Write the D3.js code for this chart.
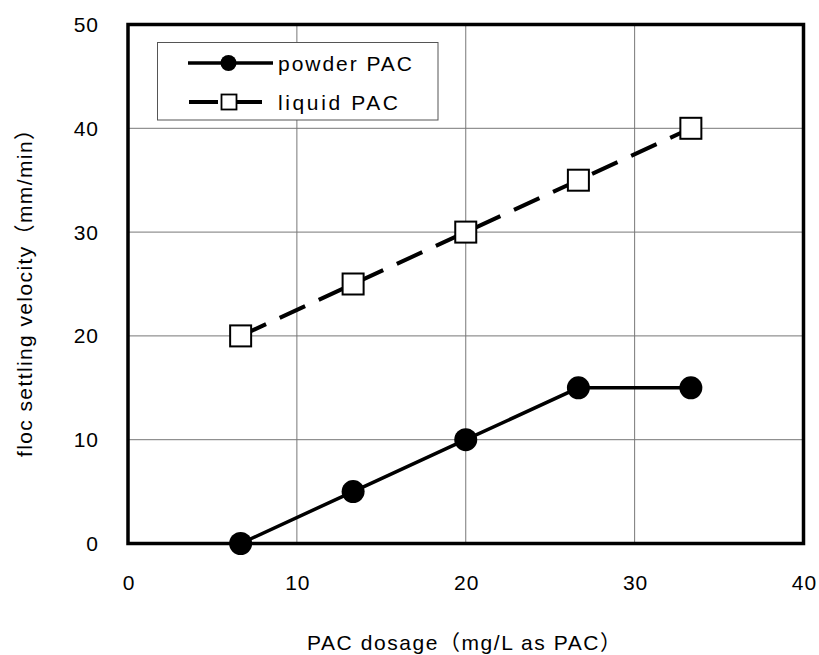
<!DOCTYPE html>
<html>
<head>
<meta charset="utf-8">
<script src="https://cdn.jsdelivr.net/npm/d3@7"></script>
<style>
  html, body { margin: 0; padding: 0; background: #fff; }
  svg text { font-family: "Liberation Sans", Arial, "Noto Sans CJK JP", sans-serif; fill: #000; }
</style>
</head>
<body>
<svg id="chart" width="819" height="655"></svg>
<script>
// PAC dosage vs floc settling velocity
const dosage = [6.67, 13.33, 20, 26.67, 33.33];
const powderPAC = [0, 5, 10, 15, 15];
const liquidPAC = [20, 25, 30, 35, 40];
const xTicks = [0, 10, 20, 30, 40];
const yTicks = [0, 10, 20, 30, 40, 50];
const seriesNames = ["powder PAC", "liquid PAC"];

(function () {
  const svg = d3.select("#chart");
  const L = 128, R = 803.5, T = 24.5, B = 543.5;

  const x = d3.scaleLinear().domain([0, 40]).range([L, R]);
  const y = d3.scaleLinear().domain([0, 50]).range([B, T]);

  // grid
  svg.append("g")
    .selectAll("line")
    .data(xTicks.slice(1, -1))
    .join("line")
    .attr("x1", d => x(d)).attr("x2", d => x(d))
    .attr("y1", T).attr("y2", B)
    .attr("stroke", "#777").attr("stroke-width", 1);
  svg.append("g")
    .selectAll("line")
    .data(yTicks.slice(1, -1))
    .join("line")
    .attr("x1", L).attr("x2", R)
    .attr("y1", d => y(d)).attr("y2", d => y(d))
    .attr("stroke", "#777").attr("stroke-width", 1);

  // tick labels
  svg.append("g")
    .selectAll("text")
    .data(xTicks)
    .join("text")
    .attr("x", d => x(d) + 1).attr("y", 590)
    .attr("text-anchor", "middle")
    .attr("font-size", 21)
    .attr("letter-spacing", 1)
    .text(d => d);
  svg.append("g")
    .selectAll("text")
    .data(yTicks)
    .join("text")
    .attr("x", 99).attr("y", d => y(d) + 7.5)
    .attr("text-anchor", "end")
    .attr("font-size", 21)
    .attr("letter-spacing", 1)
    .text(d => d);

  // axis titles (fullwidth parentheses as in the original)
  svg.append("text")
    .attr("x", 307).attr("y", 650)
    .attr("font-size", 21)
    .attr("textLength", 314).attr("lengthAdjust", "spacing")
    .text("PAC dosage（mg/L as PAC）");
  svg.append("text")
    .attr("transform", "translate(32,457) rotate(-90)")
    .attr("font-size", 21)
    .attr("textLength", 338).attr("lengthAdjust", "spacing")
    .text("floc settling velocity（mm/min）");

  // lines
  const line = d3.line().x(d => x(d[0])).y(d => y(d[1]));
  svg.append("path")
    .datum(d3.zip(dosage, powderPAC))
    .attr("d", line)
    .attr("fill", "none").attr("stroke", "#000").attr("stroke-width", 3.5);
  svg.append("path")
    .datum(d3.zip(dosage, liquidPAC))
    .attr("d", line)
    .attr("fill", "none").attr("stroke", "#000").attr("stroke-width", 4)
    .attr("stroke-dasharray", "28,15");

  // frame
  svg.append("rect")
    .attr("x", L).attr("y", T)
    .attr("width", R - L).attr("height", B - T)
    .attr("fill", "none").attr("stroke", "#000").attr("stroke-width", 3.5);

  // markers
  svg.append("g")
    .selectAll("circle")
    .data(d3.zip(dosage, powderPAC))
    .join("circle")
    .attr("cx", d => x(d[0])).attr("cy", d => y(d[1]))
    .attr("r", 11.5).attr("fill", "#000");
  const sq = 21;
  svg.append("g")
    .selectAll("rect")
    .data(d3.zip(dosage, liquidPAC))
    .join("rect")
    .attr("x", d => x(d[0]) - sq / 2).attr("y", d => y(d[1]) - sq / 2)
    .attr("width", sq).attr("height", sq)
    .attr("fill", "#fff").attr("stroke", "#000").attr("stroke-width", 2);

  // legend
  const lg = svg.append("g");
  lg.append("rect")
    .attr("x", 157.5).attr("y", 42.5).attr("width", 280.5).attr("height", 77.5)
    .attr("fill", "#fff").attr("stroke", "#555").attr("stroke-width", 1);
  lg.append("line")
    .attr("x1", 188).attr("x2", 273).attr("y1", 63).attr("y2", 63)
    .attr("stroke", "#000").attr("stroke-width", 3.5);
  lg.append("circle").attr("cx", 228.5).attr("cy", 63).attr("r", 8).attr("fill", "#000");
  lg.append("line")
    .attr("x1", 189).attr("x2", 262).attr("y1", 102).attr("y2", 102)
    .attr("stroke", "#000").attr("stroke-width", 4)
    .attr("stroke-dasharray", "29,17");
  lg.append("rect")
    .attr("x", 221.5).attr("y", 94.5).attr("width", 15).attr("height", 15)
    .attr("fill", "#fff").attr("stroke", "#000").attr("stroke-width", 1.8);
  const legendLen = [134, 120];
  lg.selectAll("text.lab")
    .data(seriesNames)
    .join("text")
    .attr("x", 278).attr("y", (d, i) => 70.5 + i * 39)
    .attr("font-size", 21)
    .attr("textLength", (d, i) => legendLen[i]).attr("lengthAdjust", "spacing")
    .text(d => d);
})();
</script>
</body>
</html>
